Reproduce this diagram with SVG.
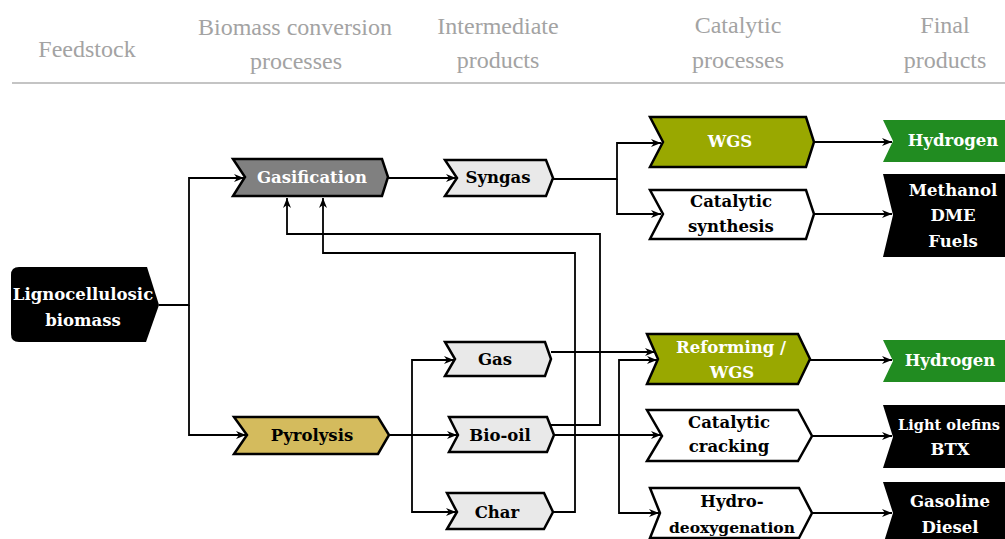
<svg xmlns="http://www.w3.org/2000/svg" width="1005" height="539" viewBox="0 0 1005 539">
<defs>
<marker id="ah" viewBox="0 0 10 8" refX="10" refY="4" markerWidth="10" markerHeight="8" markerUnits="userSpaceOnUse" orient="auto">
<path d="M0,0 L10,4 L0,8 L3,4 Z" fill="#000"/>
</marker>
<style>
.hd{font-family:"Liberation Serif",serif;font-size:24px;fill:#a3a3a3;text-anchor:middle}
.nd{stroke:#000;stroke-width:2.5;stroke-linejoin:miter}
.t{font-family:"DejaVu Serif","Liberation Serif",serif;font-weight:bold;font-size:16.5px;text-anchor:middle;fill:#000}
.w{fill:#fff}
.cn{fill:none;stroke:#000;stroke-width:1.8}
.ar{marker-end:url(#ah)}
</style>
</defs>
<rect width="1005" height="539" fill="#fff"/>
<g id="header">
<text class="hd" x="87" y="57">Feedstock</text>
<text class="hd" x="295" y="35">Biomass conversion</text>
<text class="hd" x="296" y="69">processes</text>
<text class="hd" x="498" y="34">Intermediate</text>
<text class="hd" x="498" y="68">products</text>
<text class="hd" x="738" y="33">Catalytic</text>
<text class="hd" x="738" y="68">processes</text>
<text class="hd" x="945" y="33">Final</text>
<text class="hd" x="945" y="68">products</text>
<line x1="12" y1="83" x2="1005" y2="83" stroke="#c4c4c4" stroke-width="2"/>
</g>
<g id="connectors">
<path class="cn ar" d="M159,305 H189 V178 H244"/>
<path class="cn ar" d="M189,305 V435 H246"/>
<path class="cn ar" d="M388,178 H456"/>
<path class="cn ar" d="M553,179 H617 V143 H661"/>
<path class="cn ar" d="M617,179 V214 H661"/>
<path class="cn ar" d="M814,142 H892"/>
<path class="cn ar" d="M814,214 H892"/>
<path class="cn ar" d="M389,435 H457"/>
<path class="cn ar" d="M412,435 V360 H454"/>
<path class="cn ar" d="M412,435 V512 H456"/>
<path class="cn ar" d="M551,352 H655"/>
<path class="cn ar" d="M554,435 H661"/>
<path class="cn ar" d="M619,435 V360 H657"/>
<path class="cn ar" d="M619,435 V513 H659"/>
<path class="cn ar" d="M550,425 H600 V234 H287 V198"/>
<path class="cn ar" d="M553,512 H575 V253 H323 V198"/>
<path class="cn ar" d="M810,360 H892"/>
<path class="cn ar" d="M812,436 H892"/>
<path class="cn ar" d="M812,513 H892"/>
</g>
<g id="biomass">
<path d="M19,267 H147 L159,305 L146,342 H19 Q11,342 11,334 V275 Q11,267 19,267 Z" fill="#000"/>
<text class="t w" x="83" y="300">Lignocellulosic</text>
<text class="t w" x="83" y="326">biomass</text>
</g>
<g id="gasification">
<path class="nd" d="M233,159 H382 L388,177 L382,196 H233 L245,177 Z" fill="#808080"/>
<text class="t w" x="312" y="183">Gasification</text>
</g>
<g id="syngas">
<path class="nd" d="M445,160 H546 L553,178 L546,196 H445 L457,178 Z" fill="#e9e9e9"/>
<text class="t" x="498" y="183">Syngas</text>
</g>
<g id="wgs">
<path class="nd" d="M650,117 H806 L814,142 L806,167 H650 L663,142 Z" fill="#99a800"/>
<text class="t w" x="730" y="147">WGS</text>
</g>
<g id="catsynth">
<path class="nd" d="M650,190 H806 L814,214 L806,239 H650 L663,214 Z" fill="#fff"/>
<text class="t" x="731" y="207">Catalytic</text>
<text class="t" x="731" y="232">synthesis</text>
</g>
<g id="hydrogen1">
<path d="M883,120 H1005 V162 H883 L893,141 Z" fill="#218c21"/>
<text class="t w" x="953" y="146">Hydrogen</text>
</g>
<g id="methanol">
<path d="M883,174 H1005 V257 H883 L893,215 Z" fill="#000"/>
<text class="t w" x="953" y="196">Methanol</text>
<text class="t w" x="953" y="221">DME</text>
<text class="t w" x="953" y="247">Fuels</text>
</g>
<g id="pyrolysis">
<path class="nd" d="M234,417 H378 L389,435 L378,454 H234 L247,435 Z" fill="#d4bb5d"/>
<text class="t" x="312" y="441">Pyrolysis</text>
</g>
<g id="gas">
<path class="nd" d="M445,342 H545 L551,359 L545,376 H445 L455,359 Z" fill="#e9e9e9"/>
<text class="t" x="495" y="365">Gas</text>
</g>
<g id="biooil">
<path class="nd" d="M449,417 H547 L554,435 L547,452 H449 L458,435 Z" fill="#e9e9e9"/>
<text class="t" x="500" y="441">Bio-oil</text>
</g>
<g id="char">
<path class="nd" d="M447,493 H544 L553,512 L544,529 H447 L457,512 Z" fill="#e9e9e9"/>
<text class="t" x="497" y="518">Char</text>
</g>
<g id="reforming">
<path class="nd" d="M647,334 H798 L810,359 L798,384 H647 L658,359 Z" fill="#99a800"/>
<text class="t w" x="731" y="353">Reforming /</text>
<text class="t w" x="732" y="378">WGS</text>
</g>
<g id="cracking">
<path class="nd" d="M647,410 H798 L812,436 L798,461 H647 L662,436 Z" fill="#fff"/>
<text class="t" x="729" y="428">Catalytic</text>
<text class="t" x="729" y="452">cracking</text>
</g>
<g id="hdo">
<path class="nd" d="M650,488 H799 L812,513 L799,538 H650 L660,513 Z" fill="#fff"/>
<text class="t" x="732" y="507">Hydro-</text>
<text class="t" x="732" y="533" style="font-size:15.5px">deoxygenation</text>
</g>
<g id="hydrogen2">
<path d="M883,340 H1005 V382 H883 L893,361 Z" fill="#218c21"/>
<text class="t w" x="950" y="366">Hydrogen</text>
</g>
<g id="olefins">
<path d="M883,405 H1005 V468 H883 L893,437 Z" fill="#000"/>
<text class="t w" x="949" y="430" style="font-size:14.5px">Light olefins</text>
<text class="t w" x="950" y="455">BTX</text>
</g>
<g id="gasoline">
<path d="M883,482 H1005 V545 H883 L893,513 Z" fill="#000"/>
<text class="t w" x="950" y="507">Gasoline</text>
<text class="t w" x="950" y="533">Diesel</text>
</g>
</svg>
